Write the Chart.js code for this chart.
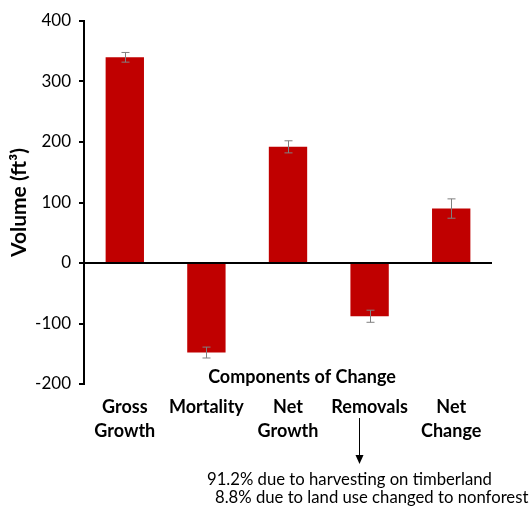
<!DOCTYPE html>
<html>
<head>
<meta charset="utf-8">
<script src="https://cdn.jsdelivr.net/npm/chart.js@4/dist/chart.umd.min.js"></script>
<style>
  html, body { margin: 0; padding: 0; background: #fff; }
  #wrap { width: 532px; height: 510px; }
</style>
</head>
<body>
<div id="wrap"><canvas id="volChart" width="532" height="510"></canvas></div>
<script>
// components of change, volume in ft3
const categories = [['Gross', 'Growth'], ['Mortality'], ['Net', 'Growth'], ['Removals'], ['Net', 'Change']]
const volumes = [340, -148, 192, -88, 90]
const errors = [8, 9, 10, 10, 16]
const yTicks = [400, 300, 200, 100, 0, -100, -200]
const noteLines = ['91.2% due to harvesting on timberland', '8.8% due to land use changed to nonforest']

const FONT = 'Lato, "Open Sans", sans-serif'

// error bars, axis caption and the removals note
const extras = {
    id: 'extras',
    afterDatasetsDraw(chart) {
        let ctx = chart.ctx
        let x = chart.scales.x
        let y = chart.scales.y
        ctx.save()
        ctx.strokeStyle = '#808080'
        ctx.lineWidth = 1
        volumes.forEach((v, i) => {
            let px = Math.round(x.getPixelForValue(i)) + 0.5
            let top = y.getPixelForValue(v + errors[i])
            let bot = y.getPixelForValue(v - errors[i])
            ctx.beginPath()
            ctx.moveTo(px, top); ctx.lineTo(px, bot)
            ctx.moveTo(px - 4, top); ctx.lineTo(px + 4, top)
            ctx.moveTo(px - 4, bot); ctx.lineTo(px + 4, bot)
            ctx.stroke()
        })
        ctx.restore()
    },
    afterDraw(chart) {
        let ctx = chart.ctx
        let area = chart.chartArea
        let x = chart.scales.x
        ctx.save()
        ctx.fillStyle = '#000'
        ctx.textAlign = 'center'
        ctx.textBaseline = 'middle'
        ctx.font = 'bold 18px ' + FONT
        ctx.fillText('Components of Change', (area.left + area.right) / 2 + 14, 377)

        // arrow under Removals, a little left of the label centre
        let ax = Math.round(x.getPixelForValue(3)) - 11 + 0.5
        ctx.strokeStyle = '#000'
        ctx.lineWidth = 1
        ctx.beginPath()
        ctx.moveTo(ax, 418)
        ctx.lineTo(ax, 456)
        ctx.stroke()
        ctx.beginPath()
        ctx.moveTo(ax - 4, 455)
        ctx.lineTo(ax + 4, 455)
        ctx.lineTo(ax, 464)
        ctx.closePath()
        ctx.fill()

        ctx.font = '16.7px ' + FONT
        ctx.textAlign = 'left'
        ctx.fillText(noteLines[0], 207, 480)
        ctx.fillText(noteLines[1], 215, 498)
        ctx.restore()
    }
}

let chartArea = document.getElementById('volChart').getContext('2d')
let myChart = new Chart(chartArea, {
    type: 'bar',
    data: {
        labels: categories,
        datasets: [{
            label: 'Volume',
            data: volumes,
            backgroundColor: '#C00000',
            borderWidth: 0,
            categoryPercentage: 1,
            barPercentage: 0.47
        }]
    },
    plugins: [extras],
    options: {
        responsive: false,
        animation: false,
        devicePixelRatio: 1,
        layout: { padding: { top: 21, right: 40, left: 0, bottom: 0 } },
        plugins: {
            legend: { display: false },
            tooltip: { enabled: false }
        },
        scales: {
            x: {
                grid: { display: false },
                border: { display: false },
                ticks: {
                    color: '#000',
                    padding: 3,
                    maxRotation: 0,
                    font: { family: FONT, size: 18, weight: 'bold', lineHeight: 1.35 }
                },
                afterFit(scale) { scale.height = 126 }
            },
            y: {
                min: -200,
                max: 400,
                afterBuildTicks(scale) { scale.ticks = yTicks.map(v => ({ value: v })) },
                grid: {
                    color: c => c.tick && c.tick.value === 0 ? '#000' : 'rgba(0,0,0,0)',
                    lineWidth: 2,
                    tickColor: '#000',
                    tickLength: 5,
                    tickWidth: 2
                },
                border: { color: '#000', width: 2 },
                ticks: {
                    color: '#000',
                    padding: 8,
                    font: { family: FONT, size: 17 }
                },
                title: {
                    display: true,
                    text: 'Volume (ft³)',
                    color: '#000',
                    padding: { top: 7, bottom: 0 },
                    font: { family: FONT, size: 21, weight: 'bold' }
                },
                afterFit(scale) { scale.width = 84 }
            }
        }
    }
})
</script>
</body>
</html>
